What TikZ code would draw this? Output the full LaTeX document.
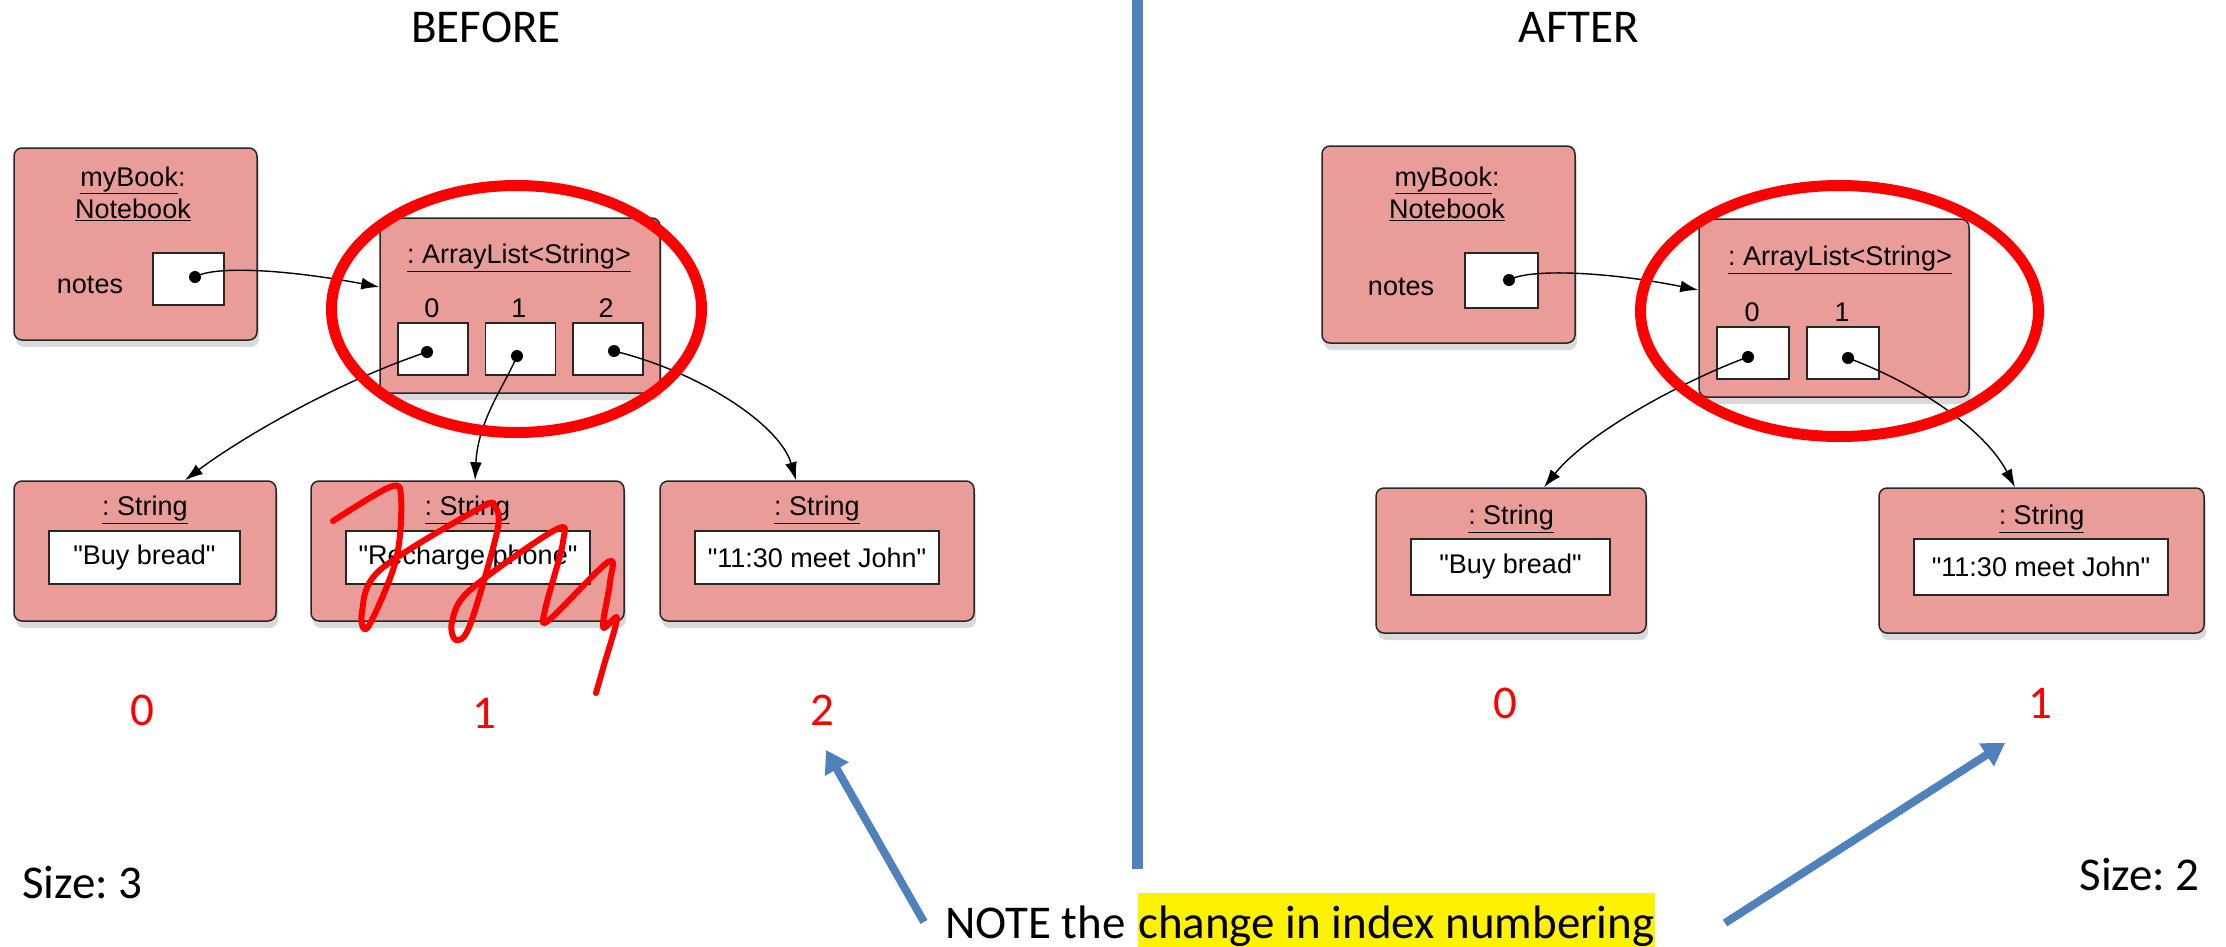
\documentclass[tikz,border=0pt]{standalone}
\usepackage{fontspec}
\setmainfont{Carlito}
\newfontfamily\diafont{Liberation Sans}
\usetikzlibrary{arrows.meta,shadows,calc}
\definecolor{objfill}{RGB}{234,156,152}
\definecolor{slideblue}{RGB}{79,129,189}
\frenchspacing
\begin{document}
\begin{tikzpicture}[x=1pt,y=-1pt,
  objbox/.style={draw=black!85, line width=1.5pt, fill=objfill, rounded corners=8pt,
    drop shadow={opacity=0.3, shadow xshift=2pt, shadow yshift=-7pt}, inner sep=0pt},
  slotbox/.style={draw=black!85, line width=1.2pt, fill=white, inner sep=0pt},
  valbox/.style={draw=black!85, line width=1.5pt, fill=white, inner sep=0pt,
    font=\diafont\fontsize{27}{30}\selectfont},
  dia/.style={font=\diafont\fontsize{27}{32}\selectfont, inner sep=0pt},
  ptrdot/.style={circle, fill=black, minimum size=12pt, inner sep=0pt},
  refarrow/.style={line width=1.4pt, -{Latex[length=18pt,width=12pt]}},
  slide/.style={font=\fontsize{47}{56}\selectfont, inner sep=0pt},
  idx/.style={slide, text=red},
  bluearrow/.style={draw=slideblue, line width=8pt, -{Triangle[length=22pt,width=26pt]}},
  hiellipse/.style={draw=red, line width=11pt}
]
\useasboundingbox (0,0) rectangle (2226,946);

% ---------------- titles ----------------
\node[slide, anchor=base] (before) at (486,42) {BEFORE};
\node[slide, anchor=base] (after) at (1579,42) {AFTER};

% ---------------- divider ----------------
\coordinate (divtop) at (1137,0);
\coordinate (divbot) at (1137,869);
\draw[slideblue, line width=11pt] (divtop) -- (divbot);

% ================= BEFORE =================
\node[objbox, minimum width=243pt, minimum height=192pt] (bnb) at (135.5,244) {};
\node[dia, align=center] (bnbt) at (133,194) {\underline{myBook}:\\\underline{Notebook}};
\node[dia] (bnotes) at (90,285) {notes};
\node[slotbox, minimum width=71pt, minimum height=52pt] (bnbox) at (188.5,279) {};

\node[objbox, minimum width=280pt, minimum height=175pt] (bal) at (520,305.5) {};
\node[dia] (balt) at (519,258) {\underline{: ArrayList<String>}};
\node[dia] (bi0) at (432,308) {0};
\node[dia] (bi1) at (519,308) {1};
\node[dia] (bi2) at (606,308) {2};
\node[slotbox, minimum width=70pt, minimum height=52pt] (bs0) at (433,349) {};
\node[slotbox, minimum width=70pt, minimum height=52pt] (bs1) at (520.5,349) {};
\node[slotbox, minimum width=70pt, minimum height=52pt] (bs2) at (608,349) {};

\node[objbox, minimum width=262pt, minimum height=140pt] (bstr0) at (145,551) {};
\node[objbox, minimum width=313pt, minimum height=140pt] (bstr1) at (467.5,551) {};
\node[objbox, minimum width=314pt, minimum height=140pt] (bstr2) at (817,551) {};
\node[dia] (bsl0) at (145,510) {\underline{: String}};
\node[dia] (bsl1) at (467.5,510) {\underline{: String}};
\node[dia] (bsl2) at (817,510) {\underline{: String}};
\node[valbox, minimum width=191pt, minimum height=53pt] (bv0) at (144.5,557.5) {"Buy bread"};
\node[valbox, minimum width=244pt, minimum height=53pt] (bv1) at (468,557.5) {"Recharge phone"};
\node[valbox, minimum width=244pt, minimum height=53pt] (bv2) at (817,557.5) {"11:30 meet John"};

\draw[refarrow] (195,277) .. controls (215,265) and (290,270) .. ([yshift=18.5pt]bal.west);
\draw[refarrow] (427,352) .. controls (331,384) and (234,443) .. ([xshift=40pt]bstr0.north);
\draw[refarrow] (517,356) .. controls (505,385) and (478,420) .. ([xshift=7.5pt]bstr1.north);
\draw[refarrow] (614,351) .. controls (700,372) and (780,425) .. ([xshift=-21pt]bstr2.north);

\node[ptrdot] (bnd) at (195,277) {};
\node[ptrdot] (bd0) at (427,352) {};
\node[ptrdot] (bd1) at (517,356) {};
\node[ptrdot] (bd2) at (614,351) {};

\draw[hiellipse] (516.5,309) ellipse [x radius=185pt, y radius=123.5pt];

\draw[red, line width=6pt, line cap=round, line join=round]
  plot[smooth, tension=0.55] coordinates {(333,521) (390,487) (401,497) (396,560) (368,627)
   (362,612) (380,570) (480,508) (495,507) (497,532) (470,625) (456,640) (452,622) (470,590)
   (555,530) (563,542) (545,610) (549,620) (608,562) (610,582) (603,627) (617,618) (604,665) (596,693)};

\node[idx, anchor=base] (bn0) at (142,725) {0};
\node[idx, anchor=base] (bn1) at (484,728) {1};
\node[idx, anchor=base] (bn2) at (822,725) {2};

\node[slide, anchor=base west] (size3) at (22,898) {Size: 3};

% ================= AFTER =================
\node[objbox, minimum width=253pt, minimum height=197pt] (anb) at (1448.5,244.5) {};
\node[dia, align=center] (anbt) at (1447,194) {\underline{myBook}:\\\underline{Notebook}};
\node[dia] (anotes) at (1401,287) {notes};
\node[slotbox, minimum width=73pt, minimum height=55pt] (anbox) at (1501.5,280.5) {};

\node[objbox, minimum width=270pt, minimum height=178pt] (aal) at (1834,308) {};
\node[dia] (aalt) at (1840,260) {\underline{: ArrayList<String>}};
\node[dia] (ai0) at (1752,312) {0};
\node[dia] (ai1) at (1842,312) {1};
\node[slotbox, minimum width=72pt, minimum height=52pt] (as0) at (1753,353) {};
\node[slotbox, minimum width=72pt, minimum height=52pt] (as1) at (1843,353) {};

\node[objbox, minimum width=270pt, minimum height=145pt] (astr0) at (1511,560.5) {};
\node[objbox, minimum width=325pt, minimum height=145pt] (astr1) at (2041.5,560.5) {};
\node[dia] (asl0) at (1511,519) {\underline{: String}};
\node[dia] (asl1) at (2041.5,519) {\underline{: String}};
\node[valbox, minimum width=199pt, minimum height=56pt] (av0) at (1510.5,567) {"Buy bread"};
\node[valbox, minimum width=254pt, minimum height=56pt] (av1) at (2041,567) {"11:30 meet John"};

\draw[refarrow] (1509,280) .. controls (1530,268) and (1610,272) .. ([yshift=18pt]aal.west);
\draw[refarrow] (1748,357) .. controls (1690,378) and (1590,430) .. ([xshift=33pt]astr0.north);
\draw[refarrow] (1848,358) .. controls (1920,385) and (1985,430) .. ([xshift=-26.5pt]astr1.north);

\node[ptrdot] (and) at (1509,280) {};
\node[ptrdot] (ad0) at (1748,357) {};
\node[ptrdot] (ad1) at (1848,358) {};

\draw[hiellipse] (1839.5,311) ellipse [x radius=199pt, y radius=125.5pt];

\node[idx, anchor=base] (an0) at (1505,718) {0};
\node[idx, anchor=base] (an1) at (2040,718) {1};

\node[slide, anchor=base east] (size2) at (2200,890) {Size: 2};

% ================= NOTE =================
\node[slide, anchor=base west] (note1) at (945,938) {NOTE the};
\node[slide, anchor=base west, fill=yellow, text height=45pt, text depth=10pt] (note2) at (1138,938) {change in index numbering};

\coordinate (ltail) at (924,922);
\coordinate (ltip) at (826,750);
\coordinate (rtail) at (1725,923);
\coordinate (rtip) at (2005,743);
\draw[bluearrow] (ltail) -- (ltip);
\draw[bluearrow] (rtail) -- (rtip);
\end{tikzpicture}
\end{document}
